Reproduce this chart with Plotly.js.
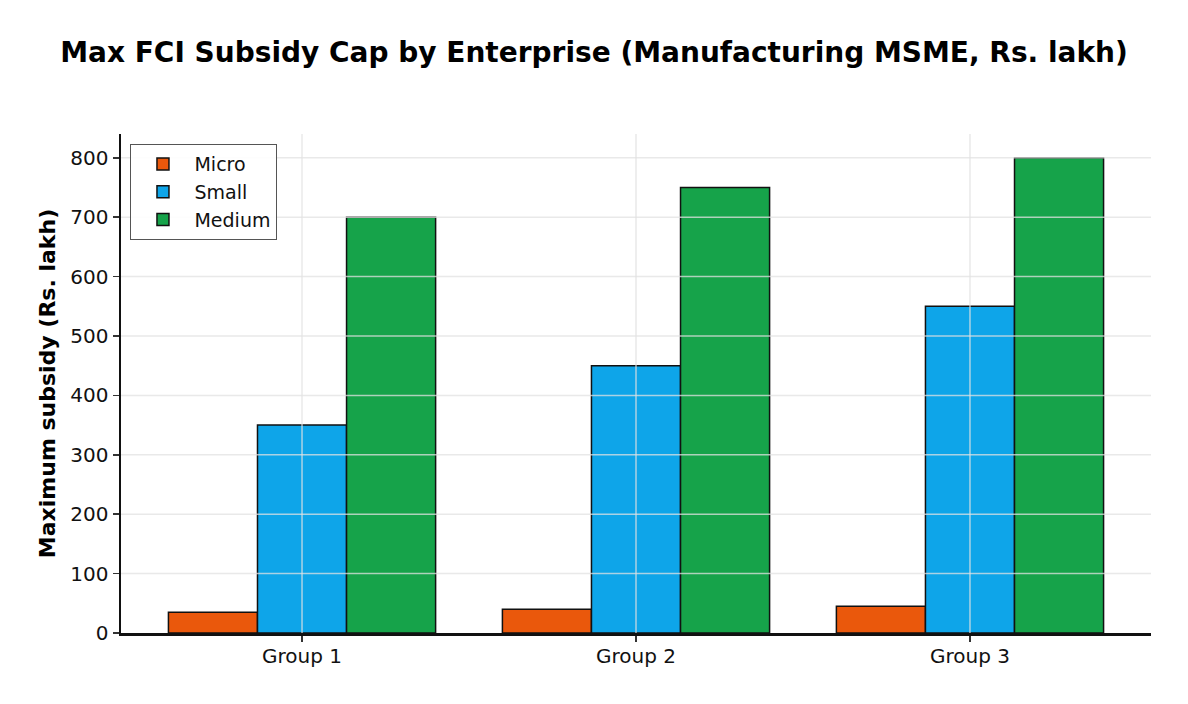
<!DOCTYPE html>
<html>
<head>
<meta charset="utf-8">
<script src="https://cdn.plot.ly/plotly-3.0.1.min.js"></script>
<style>html,body{margin:0;padding:0;background:#fff;}#chart{width:1188px;height:704px;}</style>
</head>
<body>
<div id="chart"></div>
<script>
const groups = ["Group 1", "Group 2", "Group 3"];
const micro = [35, 40, 45];
const small = [350, 450, 550];
const medium = [700, 750, 800];
const yTicks = [0, 100, 200, 300, 400, 500, 600, 700, 800];

const seriesNames = ["Micro", "Small", "Medium"];
const seriesValues = [micro, small, medium];
const seriesColors = ["#ea580c", "#0ea5e9", "#16a34a"];

const font = "DejaVu Sans, sans-serif";

const traces = seriesNames.map((n, i) => ({
  type: "bar",
  name: n,
  x: groups,
  y: seriesValues[i],
  marker: {color: seriesColors[i], line: {color: "#111111", width: 1.5}},
  hoverinfo: "x+y+name"
}));

const gridColor = "rgba(225,225,225,0.75)";
const shapes = [];
yTicks.filter(v => v > 0).forEach(v => shapes.push({
  type: "line", xref: "paper", yref: "y", x0: 0, x1: 1, y0: v, y1: v,
  line: {color: gridColor, width: 1.5}, layer: "above"
}));
groups.forEach(g => shapes.push({
  type: "line", xref: "x", yref: "paper", x0: g, x1: g, y0: 0, y1: 1,
  line: {color: gridColor, width: 1.5}, layer: "above"
}));

const layout = {
  width: 1188, height: 704,
  paper_bgcolor: "#fff", plot_bgcolor: "#fff",
  margin: {l: 121, r: 37, t: 134, b: 71},
  font: {family: font, size: 20, color: "#000"},
  title: {text: "<b>Max FCI Subsidy Cap by Enterprise (Manufacturing MSME, Rs. lakh)</b>",
    font: {family: font, size: 28, color: "#000"}, x: 0.5, xanchor: "center", y: 0.926, yanchor: "middle"},
  barmode: "group", bargap: 0.2, bargroupgap: 0,
  xaxis: {
    type: "category", range: [-0.542, 2.542], showgrid: false,
    showline: true, linecolor: "#111", linewidth: 2.5,
    ticks: "outside", ticklen: 6, tickwidth: 1.5, tickcolor: "#333",
    ticklabelstandoff: -3,
    tickfont: {family: font, size: 20, color: "#111"}, zeroline: false
  },
  yaxis: {
    range: [0, 840], tickvals: yTicks, showgrid: false,
    showline: true, linecolor: "#111", linewidth: 2.5,
    ticks: "outside", ticklen: 6, tickwidth: 1.5, tickcolor: "#333",
    tickfont: {family: font, size: 20, color: "#111"}, zeroline: false,
    title: {text: "<b>Maximum subsidy (Rs. lakh)</b>", font: {family: font, size: 22, color: "#000"}, standoff: 9}
  },
  legend: {
    x: 0.009, y: 0.98, xanchor: "left", yanchor: "top",
    bgcolor: "rgba(255,255,255,0.9)", bordercolor: "#555", borderwidth: 1.2,
    font: {family: font, size: 19, color: "#111"}, tracegroupgap: 0, itemwidth: 53
  },
  shapes: shapes,
  showlegend: true
};

Plotly.newPlot("chart", traces, layout, {displayModeBar: false, staticPlot: true});
</script>
</body>
</html>
